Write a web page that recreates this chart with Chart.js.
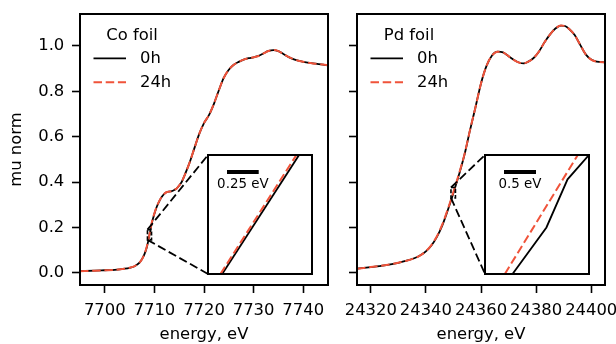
<!DOCTYPE html>
<html lang="en">
<head>
<meta charset="utf-8">
<title>Co / Pd foil XANES</title>
<script src="https://cdn.jsdelivr.net/npm/chart.js@4.4.1/dist/chart.umd.min.js"></script>
<style>
    body { margin: 0; background: #fff; }
    #figure { position: relative; width: 616px; height: 344px; overflow: hidden; }
    #figure canvas { position: absolute; }
    .inset { background: #fff; }
</style>
</head>
<body>
<div id="figure">
    <canvas id="coChart" width="340" height="344" style="left:0;top:0"></canvas>
    <canvas id="pdChart" width="276" height="344" style="left:340px;top:0"></canvas>
    <canvas id="coInset" class="inset" width="106" height="121" style="left:207px;top:154px"></canvas>
    <canvas id="pdInset" class="inset" width="106" height="121" style="left:484px;top:154px"></canvas>
</div>
<script>
/* ========================================
   Co / Pd foil XANES, 0h vs 24h
   ======================================== */

// Shared normalised absorption axis
const muRange = [-0.054, 1.141];
const muTicks = [0.0, 0.2, 0.4, 0.6, 0.8, 1.0];

// Co K-edge
const coRange = [7695, 7745];
const coTicks = [7700, 7710, 7720, 7730, 7740];
const coEnergy = [7695, 7698, 7700, 7702, 7704, 7705, 7706, 7707,
    7707.5, 7708, 7708.5, 7709, 7709.5, 7710, 7710.5, 7711, 7711.5, 7712, 7712.5, 7713, 7713.5, 7714, 7714.5, 7715, 7715.5, 7716,
    7717, 7718, 7719, 7720, 7721, 7722, 7723, 7724, 7725, 7726, 7727, 7728, 7729, 7730, 7731, 7732, 7733, 7734, 7735, 7736, 7737, 7738, 7739, 7740,
    7742, 7744, 7745];
const coMu0h = [0.007, 0.009, 0.011, 0.013, 0.018, 0.022, 0.029, 0.045,
    0.060, 0.082, 0.115, 0.165, 0.220, 0.260, 0.292, 0.316, 0.335, 0.348, 0.356, 0.358, 0.360, 0.365, 0.372, 0.385, 0.400, 0.425,
    0.480, 0.545, 0.610, 0.660, 0.695, 0.745, 0.805, 0.860, 0.895, 0.917, 0.930, 0.940, 0.946, 0.950, 0.956, 0.967, 0.978, 0.982, 0.977, 0.965, 0.952, 0.942, 0.935, 0.930,
    0.923, 0.918, 0.915];
const coMu24h = [0.007, 0.009, 0.011, 0.013, 0.018, 0.022, 0.029, 0.045,
    0.060, 0.083, 0.118, 0.169, 0.224, 0.262, 0.293, 0.317, 0.335, 0.348, 0.356, 0.358, 0.360, 0.365, 0.372, 0.385, 0.400, 0.425,
    0.480, 0.545, 0.610, 0.660, 0.695, 0.745, 0.805, 0.860, 0.895, 0.917, 0.930, 0.940, 0.946, 0.950, 0.956, 0.967, 0.978, 0.982, 0.977, 0.965, 0.952, 0.942, 0.935, 0.930,
    0.923, 0.918, 0.915];

// Co zoom window and the traces inside it
const coZoomRange = [7708.6, 7709.42];
const coZoomMu = [0.145, 0.19];
const coZoomEnergy0h = [7708.712, 7709.318];
const coZoomMu0h = [0.145, 0.19];
const coZoomEnergy24h = [7708.698, 7709.297];
const coZoomMu24h = [0.145, 0.19];
const coScaleBar = 0.25;

// Pd K-edge
const pdRange = [24315, 24405];
const pdTicks = [24320, 24340, 24360, 24380, 24400];
const pdEnergy = [24315, 24320, 24325, 24330, 24333, 24336, 24338, 24340, 24342, 24344,
    24346, 24348, 24350, 24352, 24354, 24356, 24358, 24360, 24362, 24364,
    24366, 24368, 24370, 24372, 24374, 24375.5, 24377, 24379, 24381, 24383,
    24385, 24387, 24389, 24390.5, 24392, 24394, 24396, 24398, 24400, 24402,
    24405];
const pdMu0h = [0.018, 0.025, 0.033, 0.044, 0.053, 0.065, 0.077, 0.094, 0.120, 0.158,
    0.210, 0.278, 0.352, 0.432, 0.520, 0.628, 0.730, 0.835, 0.912, 0.958,
    0.975, 0.972, 0.955, 0.938, 0.926, 0.923, 0.930, 0.946, 0.975, 1.015,
    1.050, 1.077, 1.090, 1.088, 1.075, 1.048, 1.005, 0.963, 0.940, 0.931,
    0.928];
const pdMu24h = [0.018, 0.025, 0.033, 0.044, 0.053, 0.065, 0.077, 0.095, 0.122, 0.161,
    0.214, 0.282, 0.357, 0.436, 0.522, 0.629, 0.730, 0.835, 0.912, 0.958,
    0.975, 0.972, 0.955, 0.938, 0.926, 0.923, 0.930, 0.946, 0.975, 1.015,
    1.050, 1.077, 1.090, 1.088, 1.075, 1.048, 1.005, 0.963, 0.940, 0.931,
    0.928];

// Pd zoom window and the traces inside it
const pdZoomRange = [24349.1, 24350.725];
const pdZoomMu = [0.33, 0.376];
const pdZoomEnergy0h = [24349.53, 24350.06, 24350.39, 24350.76];
const pdZoomMu0h = [0.330, 0.348, 0.3666, 0.377];
const pdZoomEnergy24h = [24349.41, 24350.55];
const pdZoomMu24h = [0.330, 0.376];
const pdScaleBar = 0.5;

// Styling
const BLACK = '#000';
const RED = '#f0533a';
const DASH = [8.5, 3.7];
const FONT = 'DejaVu Sans';
const FONT_SIZE = 16.4;
const INSET_FONT_SIZE = 13.4;

Chart.defaults.font.family = FONT;
Chart.defaults.font.size = FONT_SIZE;
Chart.defaults.color = BLACK;

function toPoints(xs, ys) {
    return xs.map((x, i) => ({ x: x, y: ys[i] }));
}

function traces(e0, m0, e24, m24, smooth) {
    const common = {
        pointRadius: 0,
        fill: false,
        tension: 0,
        cubicInterpolationMode: smooth ? 'monotone' : 'default'
    };
    // 24h is drawn on top (lower order)
    return [
        Object.assign({ label: '0h', data: toPoints(e0, m0), borderColor: BLACK, borderWidth: 1.8, order: 2 }, common),
        Object.assign({ label: '24h', data: toPoints(e24, m24), borderColor: RED, borderWidth: 2, borderDash: DASH, order: 1 }, common)
    ];
}

// keep label overflow from shrinking the plot area
function zeroPadding(axis) {
    axis.paddingLeft = axis.paddingRight = axis.paddingTop = axis.paddingBottom = 0;
}

// Box around the plot area
const framePlugin = {
    id: 'frame',
    afterDraw(chart) {
        const { ctx, chartArea: a } = chart;
        ctx.save();
        ctx.strokeStyle = BLACK;
        ctx.lineWidth = 2;
        ctx.setLineDash([]);
        ctx.strokeRect(a.left, a.top, a.right - a.left, a.bottom - a.top);
        ctx.restore();
    }
};

// Legend with a title line, drawn inside the plot area
function foilLegend(title) {
    return {
        id: 'foilLegend',
        afterDraw(chart) {
            const { ctx, chartArea: a } = chart;
            ctx.save();
            ctx.font = `${FONT_SIZE}px "${FONT}"`;
            ctx.fillStyle = BLACK;
            ctx.textBaseline = 'middle';
            ctx.textAlign = 'center';
            ctx.fillText(title, a.left + 52, a.top + 21.7);
            ctx.textAlign = 'left';
            chart.data.datasets.forEach((ds, i) => {
                const y = a.top + 44.3 + i * 24;
                ctx.beginPath();
                ctx.strokeStyle = ds.borderColor;
                ctx.lineWidth = ds.borderWidth;
                ctx.setLineDash(ds.borderDash || []);
                ctx.moveTo(a.left + 13.5, y);
                ctx.lineTo(a.left + 46, y);
                ctx.stroke();
                ctx.fillText(ds.label, a.left + 60, y);
            });
            ctx.restore();
        }
    };
}

// Dashed rectangle for the zoom window plus lines out to the inset
function zoomMarker(zoomRange, zoomMu, insetId) {
    return {
        id: 'zoomMarker',
        afterDatasetsDraw(chart) {
            const { ctx, scales: { x, y } } = chart;
            const inset = document.getElementById(insetId);
            const x1 = x.getPixelForValue(zoomRange[0]);
            const x2 = x.getPixelForValue(zoomRange[1]);
            const y1 = y.getPixelForValue(zoomMu[1]);
            const y2 = y.getPixelForValue(zoomMu[0]);
            const insetLeft = inset.offsetLeft - chart.canvas.offsetLeft + 1;
            const insetTop = inset.offsetTop + 1;
            const insetBottom = inset.offsetTop + inset.height - 1;

            ctx.save();
            ctx.strokeStyle = BLACK;
            ctx.lineWidth = 1.6;
            ctx.setLineDash([4, 2]);
            ctx.strokeRect(x1, y1, x2 - x1, y2 - y1);

            ctx.setLineDash(DASH);
            ctx.lineWidth = 1.8;
            ctx.beginPath();
            ctx.moveTo(x1, y1);
            ctx.lineTo(insetLeft, insetTop);
            ctx.moveTo(x1, y2);
            ctx.lineTo(insetLeft, insetBottom);
            ctx.stroke();
            ctx.restore();
        }
    };
}

// Scale bar in the upper left of an inset
function scaleBar(size) {
    return {
        id: 'scaleBar',
        afterDraw(chart) {
            const { ctx, chartArea: a, scales: { x } } = chart;
            const x0 = a.left + 19;
            const len = x.getPixelForValue(x.min + size) - x.getPixelForValue(x.min);
            ctx.save();
            ctx.fillStyle = BLACK;
            ctx.fillRect(x0, a.top + 15, len, 4);
            ctx.font = `${INSET_FONT_SIZE}px "${FONT}"`;
            ctx.textAlign = 'center';
            ctx.textBaseline = 'middle';
            ctx.fillText(`${size} eV`, x0 + len / 2, a.top + 30);
            ctx.restore();
        }
    };
}

const tickGrid = {
    drawOnChartArea: false,
    drawTicks: true,
    tickLength: 8,
    tickWidth: 1.6,
    tickColor: BLACK,
    color: BLACK
};
const frameBorder = { display: true, color: BLACK, width: 2 };

function mainChart(id, cfg) {
    return new Chart(document.getElementById(id), {
        type: 'line',
        data: { datasets: traces(cfg.energy, cfg.mu0h, cfg.energy, cfg.mu24h, true) },
        options: {
            responsive: false,
            animation: false,
            events: [],
            layout: { padding: { left: 0, top: 14, right: cfg.padRight, bottom: 0 } },
            scales: {
                x: {
                    type: 'linear',
                    min: cfg.range[0],
                    max: cfg.range[1],
                    afterBuildTicks: axis => { axis.ticks = cfg.ticks.map(v => ({ value: v })); },
                    afterFit: axis => { axis.height = 59; zeroPadding(axis); },
                    grid: tickGrid,
                    border: frameBorder,
                    ticks: { padding: 8.2, maxRotation: 0, autoSkip: false, callback: v => String(v) },
                    title: { display: true, text: 'energy, eV', padding: { top: 0, bottom: -1 } }
                },
                y: {
                    type: 'linear',
                    min: muRange[0],
                    max: muRange[1],
                    afterBuildTicks: axis => { axis.ticks = muTicks.map(v => ({ value: v })); },
                    afterFit: axis => { axis.width = cfg.axisWidth; zeroPadding(axis); },
                    grid: tickGrid,
                    border: frameBorder,
                    ticks: { display: cfg.showMu, padding: 7.7, callback: v => v.toFixed(1) },
                    title: { display: cfg.showMu, text: 'mu norm', padding: { top: 6.7, bottom: 0 } }
                }
            },
            plugins: { legend: { display: false }, tooltip: { enabled: false } }
        },
        plugins: [zoomMarker(cfg.zoomRange, cfg.zoomMu, cfg.insetId), foilLegend(cfg.title), framePlugin]
    });
}

function insetChart(id, cfg) {
    return new Chart(document.getElementById(id), {
        type: 'line',
        data: { datasets: traces(cfg.energy0h, cfg.mu0h, cfg.energy24h, cfg.mu24h, false) },
        options: {
            responsive: false,
            animation: false,
            events: [],
            layout: { padding: 1 },
            scales: {
                x: { type: 'linear', display: false, min: cfg.range[0], max: cfg.range[1] },
                y: { type: 'linear', display: false, min: cfg.mu[0], max: cfg.mu[1] }
            },
            plugins: { legend: { display: false }, tooltip: { enabled: false } }
        },
        plugins: [scaleBar(cfg.bar), framePlugin]
    });
}

mainChart('coChart', {
    title: 'Co foil', energy: coEnergy, mu0h: coMu0h, mu24h: coMu24h,
    range: coRange, ticks: coTicks, showMu: true, axisWidth: 80, padRight: 12,
    zoomRange: coZoomRange, zoomMu: coZoomMu, insetId: 'coInset'
});

mainChart('pdChart', {
    title: 'Pd foil', energy: pdEnergy, mu0h: pdMu0h, mu24h: pdMu24h,
    range: pdRange, ticks: pdTicks, showMu: false, axisWidth: 17, padRight: 11,
    zoomRange: pdZoomRange, zoomMu: pdZoomMu, insetId: 'pdInset'
});

insetChart('coInset', {
    energy0h: coZoomEnergy0h, mu0h: coZoomMu0h, energy24h: coZoomEnergy24h, mu24h: coZoomMu24h,
    range: coZoomRange, mu: coZoomMu, bar: coScaleBar
});

insetChart('pdInset', {
    energy0h: pdZoomEnergy0h, mu0h: pdZoomMu0h, energy24h: pdZoomEnergy24h, mu24h: pdZoomMu24h,
    range: pdZoomRange, mu: pdZoomMu, bar: pdScaleBar
});
</script>
</body>
</html>
